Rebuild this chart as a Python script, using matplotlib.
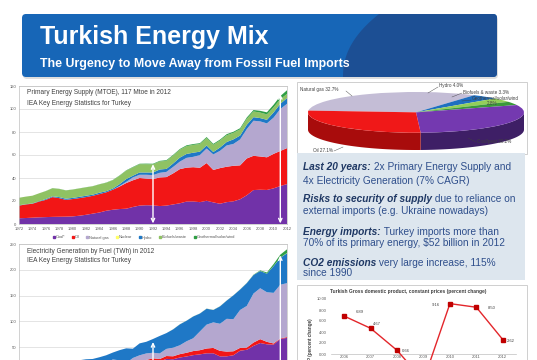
import numpy as np
import matplotlib
matplotlib.use("Agg")
import matplotlib.pyplot as plt
from matplotlib.patches import FancyBboxPatch, Rectangle, Polygon
from matplotlib.lines import Line2D

plt.rcParams['font.family'] = ['Liberation Sans', 'DejaVu Sans']

# ---------------- data ----------------
years = list(range(1972, 2013))
fuel_labels = ['Coal*', 'Oil', 'Natural gas', 'Nuclear', 'Hydro', 'Biofuels/waste', 'Geothermal/solar/wind']
fuel_colors = ['#7132a8', '#f21616', '#b4a7cf', '#ffff66', '#1f78c6', '#8fc263', '#2f9e44']

# Primary energy supply (Mtoe)
coal_pes = [5.0, 5.2, 5.5, 5.8, 6.0, 6.2, 6.3, 6.4, 6.6, 7.2,
            8.0, 9.0, 10.0, 11.5, 12.4, 13.0, 13.3, 14.8, 16.0, 16.3,
            16.2, 15.6, 16.0, 17.0, 18.0, 19.5, 19.6, 19.0, 20.2, 18.8,
            17.6, 19.0, 19.7, 21.5, 25.0, 29.5, 29.8, 29.6, 31.0, 33.0,
            34.7]
oil_pes = [11.0, 11.8, 12.1, 13.7, 15.0, 17.2, 16.2, 14.6, 15.1, 15.3,
           15.4, 15.5, 16.0, 16.0, 17.4, 19.5, 22.3, 23.2, 24.0, 23.2,
           22.8, 24.9, 24.8, 27.0, 29.7, 29.5, 29.8, 29.9, 32.8, 28.2,
           31.0, 30.8, 30.9, 29.5, 32.0, 29.8, 28.9, 28.4, 30.0, 30.5,
           31.3]
gas_pes = [0.0, 0.0, 0.0, 0.0, 0.0, 0.0, 0.0, 0.0, 0.0, 0.0,
           0.0, 0.0, 0.0, 0.0, 0.0, 0.5, 1.0, 2.5, 2.8, 3.3,
           3.5, 4.0, 4.5, 5.6, 6.5, 8.5, 9.0, 11.0, 12.6, 13.5,
           15.0, 18.5, 19.0, 22.5, 25.5, 30.5, 30.5, 29.5, 31.5, 36.5,
           38.5]
nuclear_pes = [0.0] * 41
hydro_pes = [0.3, 0.2, 0.3, 0.4, 0.7, 0.7, 0.9, 1.0, 1.0, 1.1,
             1.2, 1.0, 1.2, 1.0, 1.0, 1.6, 2.5, 1.5, 2.0, 2.0,
             2.3, 2.9, 2.6, 3.0, 3.5, 3.4, 3.6, 3.0, 2.7, 2.1,
             2.9, 3.0, 4.0, 3.4, 3.8, 3.1, 2.9, 3.1, 4.5, 4.5,
             5.0]
bio_pes = [6.5, 6.6, 6.7, 6.8, 6.9, 7.0, 7.1, 7.2, 7.2, 7.3,
           7.3, 7.3, 7.3, 7.3, 7.3, 7.3, 7.3, 7.2, 7.2, 7.2,
           7.1, 7.0, 7.0, 6.9, 6.9, 6.8, 6.8, 6.7, 6.5, 6.3,
           6.1, 5.9, 5.7, 5.4, 5.2, 5.0, 4.8, 4.7, 4.5, 4.0,
           3.6]
geo_pes = [0.0, 0.0, 0.0, 0.0, 0.1, 0.1, 0.1, 0.1, 0.1, 0.1,
           0.1, 0.1, 0.1, 0.2, 0.2, 0.3, 0.3, 0.4, 0.4, 0.5,
           0.5, 0.5, 0.6, 0.6, 0.6, 0.7, 0.7, 0.7, 0.8, 0.8,
           0.8, 0.9, 0.9, 1.0, 1.1, 1.2, 1.5, 1.8, 2.2, 2.7,
           3.2]

# Electricity generation (TWh)
coal_el = [3.2, 3.5, 3.6, 4.0, 4.4, 4.9, 5.0, 5.0, 5.0, 5.6,
           7.0, 9.0, 11.0, 14.3, 18.0, 16.0, 10.5, 16.0, 20.2, 22.0,
           23.2, 21.9, 27.4, 26.6, 30.0, 32.0, 34.6, 36.1, 38.2, 38.2,
           32.2, 32.3, 34.4, 43.2, 45.0, 52.5, 58.1, 55.6, 55.0, 66.2,
           68.0]
oil_el = [5.0, 5.5, 5.8, 6.0, 5.5, 5.8, 5.2, 4.8, 4.5, 4.0,
          3.5, 4.0, 4.5, 5.0, 5.5, 3.6, 2.0, 3.5, 3.9, 3.3,
          5.3, 5.2, 5.5, 5.8, 6.5, 7.2, 7.9, 8.1, 9.3, 10.4,
          10.7, 9.2, 7.7, 5.5, 4.3, 6.5, 7.5, 4.8, 2.2, 0.9,
          1.6]
gas_el = [0.0, 0.0, 0.0, 0.0, 0.0, 0.0, 0.0, 0.0, 0.0, 0.0,
          0.0, 0.0, 0.0, 0.1, 2.7, 5.0, 6.9, 9.6, 10.2, 12.6,
          10.8, 10.8, 13.8, 16.6, 17.2, 22.2, 24.8, 36.3, 46.2, 49.5,
          52.5, 63.5, 62.2, 73.4, 80.7, 95.0, 98.7, 96.1, 98.1, 104.0,
          104.5]
nuclear_el = [0.0] * 41
hydro_el = [3.2, 2.6, 3.4, 5.9, 8.4, 10.3, 12.3, 12.7, 13.8, 15.1,
            16.1, 14.2, 15.0, 14.9, 13.4, 19.6, 28.4, 18.0, 23.1, 22.6,
            26.6, 33.9, 30.6, 35.5, 40.5, 39.8, 42.2, 34.7, 30.9, 24.0,
            33.7, 35.3, 46.1, 39.6, 44.2, 35.9, 33.3, 36.0, 51.8, 52.3,
            57.9]
bio_el = [0.0, 0.0, 0.0, 0.0, 0.0, 0.0, 0.0, 0.0, 0.0, 0.0,
          0.0, 0.0, 0.0, 0.0, 0.0, 0.0, 0.0, 0.0, 0.0, 0.0,
          0.0, 0.0, 0.0, 0.1, 0.1, 0.1, 0.1, 0.1, 0.2, 0.2,
          0.2, 0.1, 0.1, 0.1, 0.2, 0.2, 0.2, 0.3, 0.4, 0.5,
          0.7]
geo_el = [0.0, 0.0, 0.0, 0.0, 0.0, 0.0, 0.0, 0.0, 0.0, 0.0,
          0.0, 0.0, 0.0, 0.0, 0.0, 0.0, 0.0, 0.0, 0.0, 0.0,
          0.0, 0.0, 0.0, 0.1, 0.1, 0.1, 0.1, 0.1, 0.1, 0.1,
          0.1, 0.1, 0.1, 0.2, 0.2, 0.5, 1.1, 2.0, 3.6, 5.4,
          7.0]

arrow_years = [1992, 2011]
pes_arrow_tops = [52, 113]
el_arrow_tops = [60, 228]

# Pie: primary energy mix 2012
pie_labels = ['Natural gas', 'Hydro', 'Biofuels & waste', 'Geothermal/solar/wind', 'Coal/peat', 'Oil']
pie_values = [32.7, 4.0, 3.3, 2.8, 30.2, 27.1]
pie_top_colors = ['#c4bdd6', '#1f6fc0', '#93cf5a', '#3a9a3a', '#7439b0', '#f01818']
pie_side_colors = ['#8e86a3', '#174f8a', '#6a9a3e', '#256b25', '#3e1f66', '#a80c0c']

# GDP growth
gdp_years = ['2006', '2007', '2008', '2009', '2010', '2011', '2012']
gdp_values = [6.89, 4.67, 0.66, -4.83, 9.16, 8.50, 2.62]
gdp_label_offsets = [(16, 4), (6, 4), (9, -1), (10, 0), (-14, -1), (15, -1), (8, -1)]

# ---------------- figure ----------------
W, H = 537, 360
fig = plt.figure(figsize=(W / 100, H / 100), dpi=100)
fig.patch.set_facecolor('white')


def rect(x0, y0, x1, y1):
    return [x0 / W, 1 - y1 / H, (x1 - x0) / W, (y1 - y0) / H]


bg = fig.add_axes([0, 0, 1, 1])
bg.set_xlim(0, W)
bg.set_ylim(H, 0)
bg.axis('off')

# header banner
shadow = FancyBboxPatch((23, 16), 475, 63, boxstyle='round,pad=0,rounding_size=4',
                        fc='#c8c8c8', ec='none', alpha=0.6)
bg.add_patch(shadow)
banner = FancyBboxPatch((22, 14), 475, 63, boxstyle='round,pad=0,rounding_size=4',
                        fc='#1766b7', ec='none')
bg.add_patch(banner)
yy = np.linspace(77, 14, 40)
xx = 343 + 36 * ((77 - yy) / 63) ** 2.2
dark = Polygon(np.column_stack([np.r_[xx, 500, 500], np.r_[yy, 14, 77]]),
               closed=True, fc='#1c4f94', ec='none')
bg.add_patch(dark)
dark.set_clip_path(banner)
bg.text(40, 44, 'Turkish Energy Mix', color='white', fontsize=18, fontweight='bold', va='baseline')
bg.text(40, 66.5, 'The Urgency to Move Away from Fossil Fuel Imports', color='white',
        fontsize=8.9, fontweight='bold', va='baseline')

# right-side panels
bg.add_patch(Rectangle((297, 82), 230, 72, fc='white', ec='#c8c8c8', lw=0.6))
bg.add_patch(Rectangle((297, 153), 228, 127, fc='#dde6ee', ec='none'))
bg.add_patch(Rectangle((297, 285), 230, 90, fc='white', ec='#c8c8c8', lw=0.6))

# text box content
renderer = fig.canvas.get_renderer()
text_lines = [
    ('Last 20 years:', ' 2x Primary Energy Supply and', 166),
    ('', '4x Electricity Generation (7% CAGR)', 180),
    ('Risks to security of supply', ' due to reliance on', 198),
    ('', 'external imports (e.g. Ukraine nowadays)', 210),
    ('Energy imports:', ' Turkey imports more than', 231),
    ('', r'70% of its primary energy, \$52 billion in 2012', 242),
    ('CO2 emissions', ' very large increase, 115%', 262),
    ('', 'since 1990', 272),
]
for bold, reg, yc in text_lines:
    x = 303
    yb = yc + 3.6
    if bold:
        t = bg.text(x, yb, bold, fontsize=7.3, fontweight='bold', fontstyle='italic',
                    color='#1f3864', va='baseline')
        x += t.get_window_extent(renderer=renderer).width
    bg.text(x, yb, reg, fontsize=7.3, color='#2f4f8c', va='baseline')

# ---------------- top-left stacked area ----------------
ax1 = fig.add_axes(rect(19, 86, 287, 224))
ax1.stackplot(years, coal_pes, oil_pes, gas_pes, nuclear_pes, hydro_pes, bio_pes, geo_pes,
              colors=fuel_colors, lw=0, zorder=2)
ax1.set_xlim(1972, 2012)
ax1.set_ylim(0, 120)
ax1.set_yticks(range(0, 121, 20))
ax1.set_xticks(range(1972, 2013, 2))
ax1.grid(axis='y', color='#d9d9d9', lw=0.5, zorder=0)
ax1.set_axisbelow(True)
ax1.tick_params(labelsize=3, colors='#595959', length=0, pad=2)
for s in ax1.spines.values():
    s.set_color('#bfbfbf')
    s.set_linewidth(0.5)
for yr, top in zip(arrow_years, pes_arrow_tops):
    ax1.annotate('', xy=(yr, 0.5), xytext=(yr, top),
                 arrowprops=dict(arrowstyle='<->,head_length=0.25,head_width=0.12', color='white', lw=1.0,
                                 shrinkA=0, shrinkB=0), zorder=5)
ax1.text(0.03, 0.955, 'Primary Energy Supply (MTOE), 117 Mtoe in 2012', transform=ax1.transAxes,
         fontsize=4.7, color='#404040', va='center')
ax1.text(0.03, 0.875, 'IEA Key Energy Statistics for Turkey', transform=ax1.transAxes,
         fontsize=4.7, color='#404040', va='center')
handles = [Line2D([], [], marker='s', ls='', color=c, markersize=1.8) for c in fuel_colors]
ax1.legend(handles, fuel_labels, ncol=7, fontsize=2.8, loc='center', frameon=False,
           bbox_to_anchor=(143.5 / W, 1 - 237.5 / H), bbox_transform=fig.transFigure,
           handletextpad=0.1, columnspacing=1.6, handlelength=0.8, labelcolor='#595959')

# ---------------- bottom-left stacked area ----------------
ax2 = fig.add_axes(rect(19, 244, 287, 373))
ax2.stackplot(years, coal_el, oil_el, gas_el, nuclear_el, hydro_el, bio_el, geo_el,
              colors=fuel_colors, lw=0, zorder=2)
ax2.set_xlim(1972, 2012)
ax2.set_ylim(0, 250)
ax2.set_yticks(range(50, 251, 50))
ax2.set_xticks([])
ax2.grid(axis='y', color='#d9d9d9', lw=0.5, zorder=0)
ax2.set_axisbelow(True)
ax2.tick_params(labelsize=3, colors='#595959', length=0, pad=2)
for s in ax2.spines.values():
    s.set_color('#bfbfbf')
    s.set_linewidth(0.5)
for yr, top in zip(arrow_years, el_arrow_tops):
    ax2.annotate('', xy=(yr, top), xytext=(yr, 0),
                 arrowprops=dict(arrowstyle='->,head_length=0.25,head_width=0.12', color='white', lw=1.0,
                                 shrinkA=0, shrinkB=0), zorder=5)
ax2.text(0.03, 0.945, 'Electricity Generation by Fuel (TWh) in 2012', transform=ax2.transAxes,
         fontsize=4.7, color='#404040', va='center')
ax2.text(0.03, 0.875, 'IEA Key Energy Statistics for Turkey', transform=ax2.transAxes,
         fontsize=4.7, color='#404040', va='center')

# ---------------- pie ----------------
axp = fig.add_axes(rect(308, 92, 524, 150))
start = 175
depth = 0.85
axp.pie(pie_values, colors=pie_top_colors, startangle=start, counterclock=False,
        wedgeprops=dict(lw=0))
total = sum(pie_values)
cum = np.cumsum([0] + pie_values) / total * 360
for i in range(len(pie_values)):
    a0 = start - cum[i]
    a1 = start - cum[i + 1]
    lo, hi = max(min(a0, a1), -180), min(max(a0, a1), 0)
    if hi <= lo:
        continue
    t = np.radians(np.linspace(lo, hi, 80))
    pts = np.r_[np.column_stack([np.cos(t), np.sin(t)]),
                np.column_stack([np.cos(t[::-1]), np.sin(t[::-1]) - depth])]
    axp.add_patch(Polygon(pts, closed=True, fc=pie_side_colors[i], ec='none', zorder=0.5))
axp.set_aspect('auto')
axp.set_xlim(-1, 1)
axp.set_ylim(-1 - depth, 1)
axp.axis('off')

# pie labels (overlay)
ov = fig.add_axes([0, 0, 1, 1], zorder=10)
ov.set_xlim(0, W)
ov.set_ylim(H, 0)
ov.axis('off')
pie_label_pos = [(300, 90, 'left'), (439, 86, 'left'), (463, 92, 'left'),
                 (472, 99, 'left'), (477, 142, 'left'), (313, 151, 'left')]
leader_pts = [((346, 91), (352, 96)), ((438, 87), (428, 93)), ((462, 93), (452, 97)),
              ((471, 100), (462, 101)), ((476, 142), (468, 138)), ((334, 151), (343, 147))]
for lab, v, (x, y, ha), (p0, p1) in zip(pie_labels, pie_values, pie_label_pos, leader_pts):
    txt = f'{lab} {v:.1f}%'
    if lab.startswith('Geothermal'):
        ov.text(x, y, lab, fontsize=3.3, color='#404040', va='center', ha=ha)
        ov.text(x + 15, y + 4.5, f'{v:.1f}%', fontsize=3.3, color='#404040', va='center', ha=ha)
    else:
        ov.text(x, y, txt, fontsize=3.3, color='#404040', va='center', ha=ha)
    ov.plot([p0[0], p1[0]], [p0[1], p1[1]], color='#404040', lw=0.3)

# ---------------- GDP line chart ----------------
axg = fig.add_axes(rect(331, 299, 516, 387))
xs = np.arange(len(gdp_values))
axg.plot(xs, gdp_values, color='#e3262b', lw=1.0, marker='s', markersize=3.2,
         markerfacecolor='#c00000', markeredgecolor='#c00000', zorder=3)
axg.set_xlim(-0.5, 6.5)
axg.set_ylim(-6, 10)
axg.set_yticks(range(0, 11, 2))
axg.set_yticklabels([f'{v:.2f}' for v in range(0, 11, 2)])
axg.set_xticks(xs)
axg.set_xticklabels(gdp_years)
for s in ['top', 'right', 'left']:
    axg.spines[s].set_visible(False)
axg.spines['bottom'].set_position(('data', 0))
axg.spines['bottom'].set_color('#bfbfbf')
axg.spines['bottom'].set_linewidth(0.5)
axg.tick_params(labelsize=3, colors='#595959', length=0, pad=3)
axg.tick_params(axis='x', pad=1)
axg.set_ylabel('GDP (percent change)', fontsize=3.3, color='#404040', labelpad=3, fontweight='bold')
for x, v, off in zip(xs, gdp_values, gdp_label_offsets):
    axg.annotate(f'{v:.2f}', (x, v), xytext=off, textcoords='offset pixels',
                 fontsize=3, color='#404040', ha='center', va='center')
axg.set_facecolor('none')
ov.text(408, 291, 'Turkish Gross domestic product, constant prices (percent change)',
        fontsize=3.5, fontweight='bold', color='#404040', ha='center', va='center')

fig.savefig('out.png', dpi=100, facecolor='white')
